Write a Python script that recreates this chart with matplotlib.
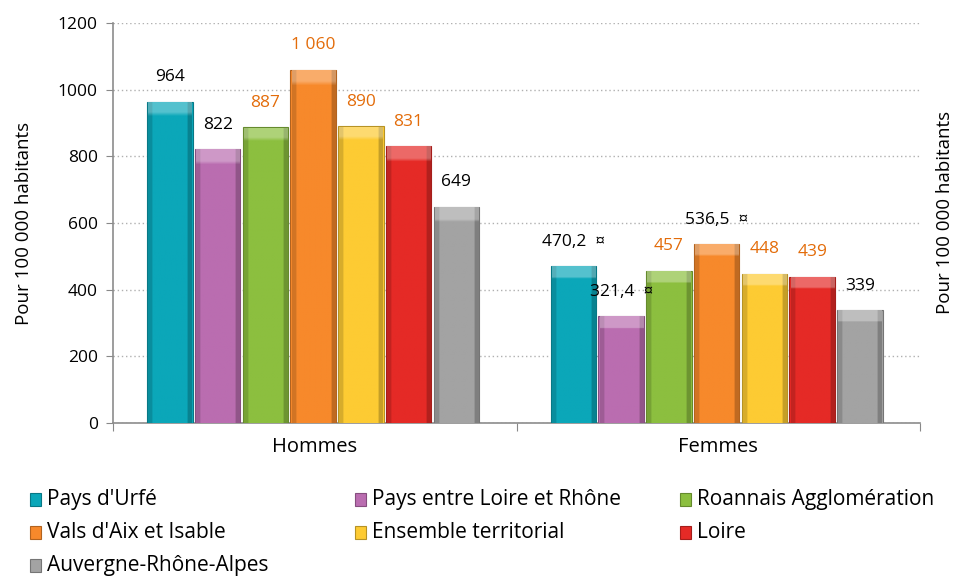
import matplotlib
matplotlib.use("Agg")
import matplotlib.pyplot as plt
import numpy as np
from matplotlib.patches import Rectangle
from matplotlib.colors import to_rgb

plt.rcParams['font.family'] = ['Open Sans', 'DejaVu Sans']

categories = ["Hommes", "Femmes"]
series = ["Pays d'Urfé", "Pays entre Loire et Rhône", "Roannais Agglomération",
          "Vals d'Aix et Isable", "Ensemble territorial", "Loire", "Auvergne-Rhône-Alpes"]
hommes = [964, 822, 887, 1060, 890, 831, 649]
femmes = [470.2, 321.4, 457, 536.5, 448, 439, 339]
femmes_flag = [True, True, False, True, False, False, False]
hommes_flag = [False] * 7
colors = ["#0BA7B9", "#BA6DB0", "#8CBF3F", "#F7892B", "#FDCB33", "#E52A26", "#A3A3A3"]
label_colors = ["#000000", "#000000", "#E36C0A", "#E36C0A", "#E36C0A", "#E36C0A", "#000000"]
femmes_label_colors = ["#000000", "#000000", "#E36C0A", "#000000", "#E36C0A", "#E36C0A", "#000000"]
yticks = [0, 200, 400, 600, 800, 1000, 1200]
ylabel = "Pour 100 000 habitants"


def fmt(v, flag):
    if float(v).is_integer():
        s = f"{int(v):,}".replace(",", " ")
    else:
        s = f"{v:.1f}".replace(".", ",")
    return s + ("  ¤" if flag else "")


fig = plt.figure(figsize=(9.57, 5.77), dpi=100)
ax = fig.add_axes([113/957, 1-423/577, (920-113)/957, 400/577])

values = [hommes, femmes]
flags = [hommes_flag, femmes_flag]
lcols = [label_colors, femmes_label_colors]
n = len(series)
slot = 0.1183
bw = 0.113
units_per_px = 1200 / 400.0

for ci in range(len(categories)):
    for si in range(n):
        x = ci - 0.004 + (si - (n - 1) / 2) * slot
        v = values[ci][si]
        base = np.array(to_rgb(colors[si]))
        dark = base * 0.72
        ax.bar(x, v, width=bw, color=colors[si], edgecolor=dark, linewidth=0.8, zorder=3)
        # bevel shading overlay
        H = 80
        W = 40
        img = np.zeros((H, W, 4))
        xs = np.linspace(0, 1, W)
        shade = np.where(xs < 0.08, 0.85, np.where(xs > 0.9, 0.78, 1.0))
        top_px = 11 * units_per_px
        rows = np.linspace(v, 0, H)
        for r in range(H):
            col = base[None, :] * shade[:, None]
            if v - rows[r] < top_px:
                col = col + (1 - col) * 0.3
            img[r, :, :3] = np.clip(col, 0, 1)
            img[r, :, 3] = 1.0
        ax.imshow(img, extent=[x - bw/2 + 0.003, x + bw/2 - 0.003, 0, v - 2],
                  aspect='auto', zorder=3.5, interpolation='bilinear')
        ax.annotate(fmt(v, flags[ci][si]), (x, v), xytext=(0, 17.5),
                    textcoords='offset points', ha='center', va='center',
                    fontsize=12.5, color=lcols[ci][si], zorder=5)

ax.set_xlim(-0.5, 1.5)
ax.set_ylim(0, 1200)
ax.set_yticks(yticks)
ax.set_yticklabels([str(t) for t in yticks], fontsize=12.5)
ax.yaxis.grid(True, linestyle=(0, (1, 2)), color="#B0B0B0", linewidth=1.0, zorder=0)
ax.set_axisbelow(True)
ax.set_xticks([-0.5, 0.5, 1.5])
ax.set_xticklabels([])
ax.set_xticks([0, 1], minor=True)
ax.set_xticklabels(categories, minor=True, fontsize=14.5)
ax.tick_params(axis='x', which='minor', length=0, pad=10)
ax.tick_params(axis='x', which='major', length=6, color="#888888")
ax.tick_params(axis='y', length=5, color="#888888", pad=6)
for s in ['top', 'right']:
    ax.spines[s].set_visible(False)
for s in ['left', 'bottom']:
    ax.spines[s].set_color("#8C8C8C")
    ax.spines[s].set_linewidth(1.2)
ax.set_ylabel(ylabel, fontsize=13.5, labelpad=18)
fig.text(945/957, 1-212/577, ylabel, rotation=90, ha='center', va='center', fontsize=13.5)

# legend
col_x = [30, 355, 680]
row_y = [500, 533, 566]
for si in range(n):
    r, c = si // 3, si % 3
    xp, yp = col_x[c], row_y[r]
    base = np.array(to_rgb(colors[si]))
    fig.add_artist(Rectangle(((xp) / 957, 1 - (yp + 6) / 577), 11/957, 13/577,
                             transform=fig.transFigure, facecolor=colors[si],
                             edgecolor=base*0.72, linewidth=0.8))
    fig.text((xp + 17) / 957, 1 - yp / 577, series[si], ha='left', va='center', fontsize=15)

fig.savefig("out.png", dpi=100)
